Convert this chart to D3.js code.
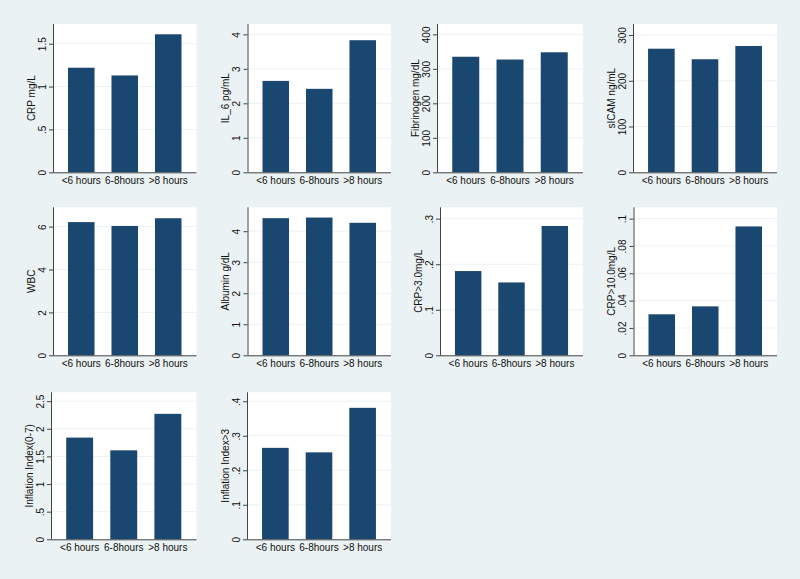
<!DOCTYPE html>
<html><head><meta charset="utf-8">
<script src="https://cdn.jsdelivr.net/npm/d3@7"></script>
<style>body{margin:0;background:#eaf2f3;}svg{display:block;}</style>
</head><body>
<svg id="chart" width="800" height="579"></svg>
<script>
const categories = ["<6 hours", "6-8hours", ">8 hours"];
const titles = ["CRP mg/L","IL_6 pg/mL","Fibrinogen mg/dL","sICAM ng/mL","WBC","Albumin g/dL","CRP>3.0mg/L","CRP>10.0mg/L","Inflation Index(0-7)","Inflation Index>3"];
const crp = [1.22, 1.13, 1.61];
const il6 = [2.65, 2.42, 3.83];
const fibrinogen = [335, 327, 348];
const sicam = [270, 247, 276];
const wbc = [6.21, 6.03, 6.39];
const albumin = [4.42, 4.44, 4.27];
const crp3 = [0.185, 0.160, 0.284];
const crp10 = [0.030, 0.0358, 0.0943];
const inflIndex = [1.84, 1.61, 2.27];
const infl3 = [0.265, 0.252, 0.381];
const seriesList = [crp, il6, fibrinogen, sicam, wbc, albumin, crp3, crp10, inflIndex, infl3];
const yMax = [1.73, 4.3, 430, 324, 6.9, 4.77, 0.325, 0.1083, 2.66, 0.426];
const tickValues = [[0,0.5,1,1.5],[0,1,2,3,4],[0,100,200,300,400],[0,100,200,300],[0,2,4,6],[0,1,2,3,4],[0,0.1,0.2,0.3],[0,0.02,0.04,0.06,0.08,0.1],[0,0.5,1,1.5,2,2.5],[0,0.1,0.2,0.3,0.4]];
const tickLabels = [["0",".5","1","1.5"],["0","1","2","3","4"],["0","100","200","300","400"],["0","100","200","300"],["0","2","4","6"],["0","1","2","3","4"],["0",".1",".2",".3"],["0",".02",".04",".06",".08",".1"],["0",".5","1","1.5","2","2.5"],["0",".1",".2",".3",".4"]];

const svg = d3.select("#chart");
const panelLeft = [53, 247.5, 437, 633, 53, 247.5, 440, 633.5, 51, 247];
const colRight = [196.5, 391, 583, 777];
const rowTop = [24, 207.3, 392.3];
const rowBottom = [172.3, 355.3, 539.3];
const font = "'Liberation Sans', Arial, Helvetica, sans-serif";

seriesList.forEach((vals, i) => {
  const col = i % 4, row = Math.floor(i / 4);
  const L = panelLeft[i], R = colRight[col], T = rowTop[row], B = rowBottom[row];
  const g = svg.append("g");
  g.append("rect").attr("x", L).attr("y", T).attr("width", R - L).attr("height", B - T).attr("fill", "#ffffff");
  const x = d3.scaleBand().domain(categories).range([L, R]).paddingInner(0.39).paddingOuter(0.345);
  const y = d3.scaleLinear().domain([0, yMax[i]]).range([B, T]);
  // gridlines
  g.selectAll("line.grid").data(tickValues[i].filter(v => v > 0)).join("line")
    .attr("x1", L).attr("x2", R).attr("y1", d => y(d)).attr("y2", d => y(d))
    .attr("stroke", "#eaf2f3").attr("stroke-width", 1);
  // bars
  g.selectAll("rect.bar").data(vals).join("rect")
    .attr("x", (d, j) => x(categories[j])).attr("width", x.bandwidth())
    .attr("y", d => y(d)).attr("height", d => B - y(d))
    .attr("fill", "#1a476f");
  // y axis
  const labels = tickLabels[i];
  const yAxis = d3.axisLeft(y).tickValues(tickValues[i]).tickSize(4).tickPadding(3)
    .tickFormat((d, k) => labels[k]);
  const ya = g.append("g").attr("transform", `translate(${L},0)`).call(yAxis);
  ya.select(".domain").attr("stroke", "#444").attr("d", `M0.5,${T}V${B}`);
  ya.selectAll(".tick line").attr("stroke", "#444");
  ya.selectAll(".tick text").attr("font-family", font).attr("font-size", 10).attr("fill", "#111")
    .attr("transform", "rotate(-90)").attr("x", 0).attr("y", -7.5).attr("dy", 0)
    .attr("text-anchor", "middle");
  // x axis
  const xAxis = d3.axisBottom(x).tickSize(0).tickPadding(5);
  const xa = g.append("g").attr("transform", `translate(0,${B})`).call(xAxis);
  xa.select(".domain").attr("stroke", "#444").attr("d", `M${L},0.5H${R}`);
  xa.selectAll(".tick text").attr("font-family", font).attr("font-size", 10).attr("fill", "#111").attr("dy", "0.71em");
  // y title
  g.append("text").attr("transform", `translate(${L - 18.5},${(T + B) / 2}) rotate(-90)`)
    .attr("text-anchor", "middle").attr("font-family", font).attr("font-size", 10).attr("fill", "#111")
    .text(titles[i]);
});
</script>
</body></html>
